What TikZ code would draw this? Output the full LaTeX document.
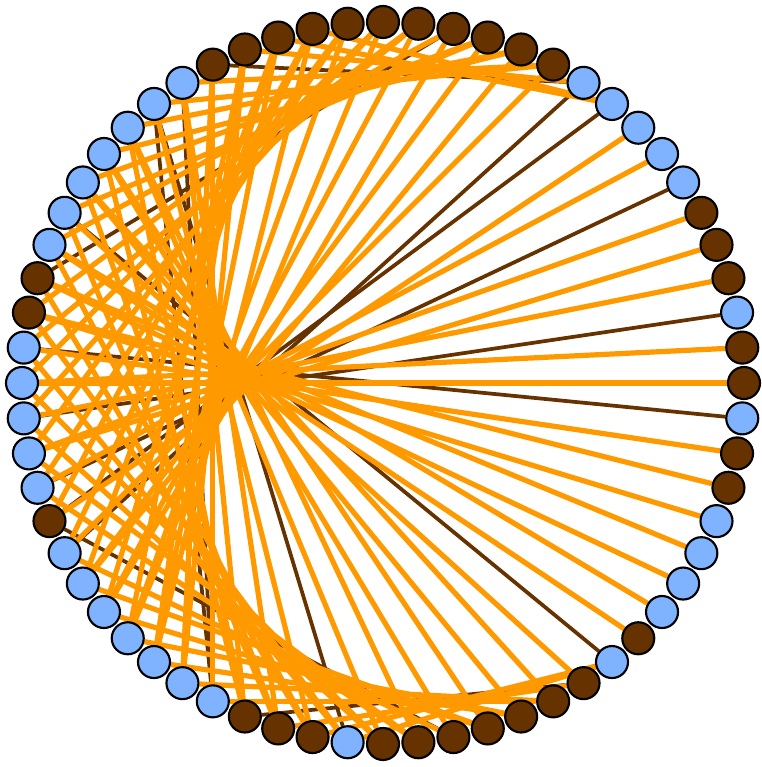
\documentclass[tikz,border=0pt]{standalone}
\usepackage{tikz}
\usetikzlibrary{backgrounds}

\definecolor{nodeblue}{HTML}{80B3FF}
\definecolor{nodebrown}{HTML}{663300}
\definecolor{linkorange}{HTML}{FF9900}

% 1 = brown vertex, 0 = blue vertex (counter-clockwise from the right)
\def\ringcol{{1,1,0,1,1,1,0,0,0,0,0,1,1,1,1,1,1,1,1,1,1,1,0,0,0,0,0,0,0,1,1,0,%
0,0,0,0,1,0,0,0,0,0,0,0,1,1,1,0,1,1,1,1,1,1,1,0,1,0,0,0,0,1,1,0}}
% brown links per source: 1 = to 2j, 2 = to 2j+1, 3 = both
\def\brownbits{{0,0,0,0,0,0,0,0,0,0,2,0,0,0,2,0,0,0,0,0,0,0,0,2,0,0,0,2,0,0,0,2,%
0,1,0,1,2,1,0,0,0,0,0,3,0,0,0,0,0,0,1,0,0,0,1,0,0,0,0,0,0,0,0,0}}

\begin{document}
\begin{tikzpicture}[x=0.75pt, y=0.75pt,
    vtx/.style={circle, draw, line width=1.6pt, minimum size=24pt, inner sep=0pt},
    orange link/.style={draw=linkorange, line width=3.9pt},
    brown link/.style={draw=nodebrown, line width=2.8pt}]

  \useasboundingbox (-383,-384) rectangle (378,383);

  % ring of 64 vertices
  \foreach \k in {0,...,63} {
    \pgfmathtruncatemacro\kcol{\ringcol[\k]}
    \ifnum\kcol=1 \def\ringfill{nodebrown}\else\def\ringfill{nodeblue}\fi
    \node[vtx, fill=\ringfill] (n\k) at (\k*5.625:361) {};
  }

  \begin{scope}[on background layer]
    % brown links first, orange ones on top
    \foreach \pass in {1,0}
      \foreach \j in {9,...,55}
        \foreach \d in {0,1} {
          \pgfmathtruncatemacro\tgt{mod(2*\j+\d,64)}
          \pgfmathtruncatemacro\isbrown{mod(floor(\brownbits[\j]/(1+\d)),2)}
          \ifnum\isbrown=\pass
            \ifnum\pass=1 \draw[brown link] (n\j) -- (n\tgt);
            \else \draw[orange link] (n\j) -- (n\tgt);\fi
          \fi
        }
  \end{scope}
\end{tikzpicture}
\end{document}
